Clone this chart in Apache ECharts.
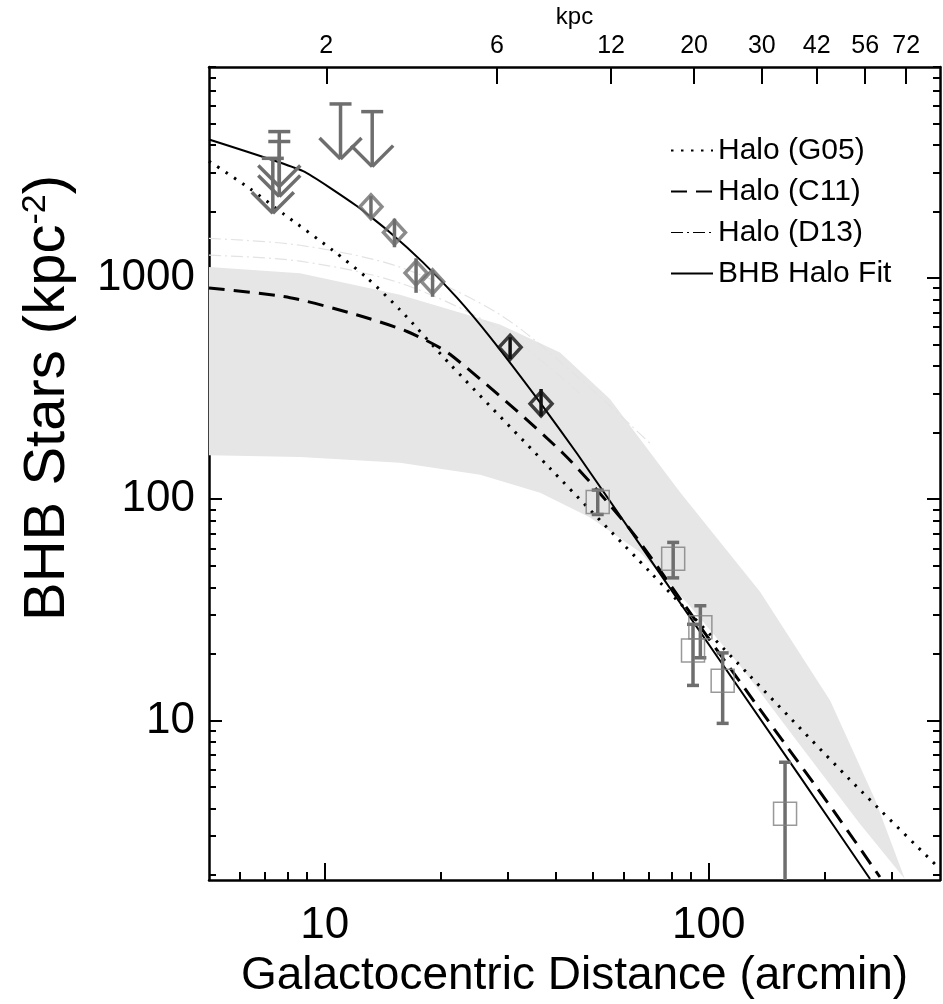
<!DOCTYPE html>
<html lang="en">
<head>
<meta charset="UTF-8">
<title>BHB halo profile</title>
<script src="https://cdn.jsdelivr.net/npm/echarts@6/dist/echarts.min.js"></script>
<style>
  html, body { margin: 0; background: #fff; }
  #main { width: 943px; height: 1004px; }
</style>
</head>
<body>
<div id="main"></div>
<script>
// x: galactocentric distance (arcmin), y: BHB stars per kpc^2
var g05X = [5, 6.4, 7.8, 10.5, 12.9, 15.7, 21.2, 38.6, 70.3, 128, 233, 400];
var g05Y = [3375, 2530, 1955, 1334, 1000, 719, 408, 138, 46.9, 15.9, 5.4, 2.13];

var c11X = [5, 8.13, 12.1, 16.4, 21.2, 41.8, 62.4, 85.7, 142, 211, 279];
var c11Y = [902, 815, 682, 573, 452, 161, 73.1, 34.0, 10.1, 3.92, 1.96];

var fitX = [5, 8.79, 12.1, 14.8, 18.0, 22.1, 27.0, 36.6, 45.4, 70.3, 173, 263];
var fitY = [4228, 3042, 2122, 1607, 1180, 815, 539, 270, 161, 53.6, 5.56, 1.92];

// envelope of the D13 model family
var bandUpX = [5, 8.63, 15.7, 28.6, 41.0, 55.3, 84.4, 136, 207, 271, 324];
var bandUpY = [1120, 1052, 839, 616, 461, 284, 107, 38.2, 12.3, 4.39, 1.92];
var bandLoX = [5, 8.63, 15.7, 25.4, 36.4, 49.1, 66.2, 89.5, 121, 173, 248, 324];
var bandLoY = [158, 155, 146, 129, 107, 82.6, 57.7, 32.7, 17.6, 7.73, 3.39, 1.92];
// a few of the fainter D13 curves outside the dense band
var d13aX = [5, 8.63, 15.7, 28.6, 46.2, 70.3];
var d13aY = [1510, 1406, 1120, 683, 350, 179];
var d13bX = [5, 8.63, 15.7, 28.6, 46.2];
var d13bY = [1268, 1191, 950, 585, 300];

// upper limits (arrows)
var limX = [7.62, 7.62, 7.33, 11.0, 13.3];
var limY = [4590, 4140, 3475, 6120, 5650];

// gray diamonds
var dmX = [13.2, 15.2, 17.3, 19.1];
var dmY = [2100, 1607, 1053, 962];
var dmLo = [1854, 1377, 857, 822];
var dmHi = [2350, 1854, 1228, 1086];

// black diamonds
var bdX = [30.4, 36.6];
var bdY = [486, 270];
var bdLo = [430, 237];
var bdHi = [540, 315];

// open squares
var sqX = [51.4, 80.8, 95.1, 91.0, 108.7, 158];
var sqY = [97.1, 53.8, 26.4, 20.7, 15.1, 3.79];
var sqLo = [85.3, 44.1, 19.2, 14.4, 9.7, 1.0];
var sqHi = [110, 63.8, 33.0, 27.2, 20.2, 6.47];

// axes
var xMajor = [10, 100];
var xMinor = [6, 7, 8, 9, 20, 30, 40, 50, 60, 70, 80, 90, 200, 300];
var yMajor = [10, 100, 1000];
var yMinor = [2, 3, 4, 5, 6, 7, 8, 9, 20, 30, 40, 50, 60, 70, 80, 90,
  200, 300, 400, 500, 600, 700, 800, 900, 2000, 3000, 4000, 5000, 6000, 7000, 8000, 9000];
var kpcLabels = ['2', '6', '12', '20', '30', '42', '56', '72'];
var kpcArcmin = [10.1, 28.1, 55.7, 91.6, 137.5, 191, 255.5, 326.6];

var FONT = 'Liberation Sans, Arial, sans-serif';
var GRAY = '#6e6e6e';

function zip(xs, ys) {
  return xs.map(function (x, i) { return [x, ys[i]]; });
}
function zip3(xs, a, b) {
  return xs.map(function (x, i) { return [x, a[i], b[i]]; });
}

function renderBand(params, api) {
  var pts = [];
  for (var i = 0; i < bandUpX.length; i++) pts.push(api.coord([bandUpX[i], bandUpY[i]]));
  for (var j = bandLoX.length - 1; j >= 0; j--) pts.push(api.coord([bandLoX[j], bandLoY[j]]));
  return {
    type: 'polygon',
    shape: { points: pts },
    style: { fill: '#e6e6e6' }
  };
}

function errBar(cap, color) {
  return function (params, api) {
    var x = api.value(0);
    var lo = api.coord([x, api.value(1)]);
    var hi = api.coord([x, api.value(2)]);
    var st = { stroke: color, lineWidth: 3.5, fill: null };
    var kids = [{ type: 'line', shape: { x1: lo[0], y1: lo[1], x2: hi[0], y2: hi[1] }, style: st }];
    if (cap) {
      kids.push({ type: 'line', shape: { x1: lo[0] - cap, y1: lo[1], x2: lo[0] + cap, y2: lo[1] }, style: st });
      kids.push({ type: 'line', shape: { x1: hi[0] - cap, y1: hi[1], x2: hi[0] + cap, y2: hi[1] }, style: st });
    }
    return { type: 'group', children: kids };
  };
}

function renderLimit(params, api) {
  var p = api.coord([api.value(0), api.value(1)]);
  var len = 55, arm = 21, cap = 11;
  var st = { stroke: GRAY, lineWidth: 3.5, fill: null };
  var tipY = p[1] + len;
  return {
    type: 'group',
    children: [
      { type: 'line', shape: { x1: p[0] - cap, y1: p[1], x2: p[0] + cap, y2: p[1] }, style: st },
      { type: 'line', shape: { x1: p[0], y1: p[1], x2: p[0], y2: tipY }, style: st },
      { type: 'line', shape: { x1: p[0] - arm, y1: tipY - arm, x2: p[0], y2: tipY }, style: st },
      { type: 'line', shape: { x1: p[0] + arm, y1: tipY - arm, x2: p[0], y2: tipY }, style: st }
    ]
  };
}

function logAxis(extra, min, max) {
  var a = {
    type: 'log', logBase: 10, min: min, max: max,
    splitLine: { show: false },
    axisLine: { show: false },
    axisTick: { show: false },
    axisLabel: { show: false }
  };
  return Object.assign(a, extra);
}

var axisLine = { show: true, lineStyle: { color: '#000', width: 2.5 } };
var tickStyle = { color: '#000', width: 2 };
var plain = function (v) { return String(Math.round(v)); };

var chart = echarts.init(document.getElementById('main'));
chart.setOption({
  animation: false,
  backgroundColor: '#fff',
  grid: { left: 209, right: 3, top: 60, bottom: 124, containLabel: false },
  xAxis: [
    logAxis({
      position: 'bottom',
      axisLine: axisLine,
      axisTick: { show: true, inside: true, length: 17, customValues: xMajor, lineStyle: tickStyle },
      axisLabel: { show: true, customValues: xMajor, formatter: plain, fontSize: 44, color: '#000', fontFamily: FONT, margin: 24 },
      name: 'Galactocentric Distance (arcmin)',
      nameLocation: 'middle',
      nameGap: 68,
      nameTextStyle: { fontSize: 46, color: '#000', fontFamily: FONT }
    }, 5, 400),
    logAxis({
      position: 'bottom',
      axisTick: { show: true, inside: true, length: 8, customValues: xMinor, lineStyle: tickStyle }
    }, 5, 400),
    logAxis({
      position: 'top',
      axisLine: axisLine,
      axisTick: { show: true, inside: true, length: 17, customValues: kpcArcmin, lineStyle: tickStyle },
      axisLabel: {
        show: true, customValues: kpcArcmin, fontSize: 25, color: '#000', fontFamily: FONT, margin: 8,
        formatter: function (v) {
          var best = 0;
          for (var i = 1; i < kpcArcmin.length; i++) {
            if (Math.abs(kpcArcmin[i] - v) < Math.abs(kpcArcmin[best] - v)) best = i;
          }
          return kpcLabels[best];
        }
      },
      name: 'kpc',
      nameLocation: 'middle',
      nameGap: 30,
      nameTextStyle: { fontSize: 24, color: '#000', fontFamily: FONT }
    }, 5, 400)
  ],
  yAxis: [
    logAxis({
      position: 'left',
      axisLine: axisLine,
      axisTick: { show: true, inside: true, length: 13, customValues: yMajor, lineStyle: tickStyle },
      axisLabel: { show: true, customValues: yMajor, formatter: plain, fontSize: 44, color: '#000', fontFamily: FONT, margin: 14 }
    }, 1.9, 9000),
    logAxis({
      position: 'left',
      axisTick: { show: true, inside: true, length: 7, customValues: yMinor, lineStyle: tickStyle }
    }, 1.9, 9000),
    logAxis({
      position: 'right',
      axisLine: axisLine,
      axisTick: { show: true, inside: true, length: 13, customValues: yMajor, lineStyle: tickStyle }
    }, 1.9, 9000),
    logAxis({
      position: 'right',
      axisTick: { show: true, inside: true, length: 7, customValues: yMinor, lineStyle: tickStyle }
    }, 1.9, 9000)
  ],
  legend: {
    orient: 'vertical',
    left: 665,
    top: 130,
    itemWidth: 42,
    itemHeight: 14,
    itemGap: 10,
    selectedMode: false,
    itemStyle: { opacity: 0 },
    textStyle: { fontSize: 30, color: '#000', fontFamily: FONT, lineHeight: 31 },
    data: [
      { name: 'Halo (G05)' },
      { name: 'Halo (C11)' },
      { name: 'Halo (D13)', lineStyle: { color: '#000', width: 1.2 } },
      { name: 'BHB Halo Fit' }
    ]
  },
  graphic: [{
    type: 'text',
    x: 48, y: 398,
    rotation: Math.PI / 2,
    style: {
      text: 'BHB Stars (kpc{sup|-2})',
      fill: '#000',
      font: '58px ' + FONT,
      align: 'center',
      verticalAlign: 'middle',
      rich: { sup: { fontSize: 34, verticalAlign: 'top', padding: [0, 0, 24, 0], fontFamily: FONT } }
    }
  }],
  series: [
    { type: 'custom', name: 'band', silent: true, renderItem: renderBand, data: [[10, 100]], z: 1 },
    {
      type: 'line', name: 'Halo (D13)', data: zip(d13aX, d13aY), symbol: 'none', smooth: 0.3, z: 2,
      itemStyle: { color: '#000' },
      lineStyle: { color: '#e3e3e3', width: 1.2, type: [12, 4, 2, 4] }
    },
    {
      type: 'line', name: 'Halo (D13)', data: zip(d13bX, d13bY), symbol: 'none', smooth: 0.3, z: 2,
      itemStyle: { color: '#000' },
      lineStyle: { color: '#e3e3e3', width: 1.2, type: [12, 4, 2, 4] }
    },
    {
      type: 'line', name: 'Halo (G05)', data: zip(g05X, g05Y), symbol: 'none', smooth: 0.25, z: 3,
      itemStyle: { color: '#000' },
      lineStyle: { color: '#000', width: 3, type: [2.5, 7.5] }
    },
    {
      type: 'line', name: 'Halo (C11)', data: zip(c11X, c11Y), symbol: 'none', smooth: 0.25, z: 3,
      itemStyle: { color: '#000' },
      lineStyle: { color: '#000', width: 3, type: [16, 9] }
    },
    {
      type: 'line', name: 'BHB Halo Fit', data: zip(fitX, fitY), symbol: 'none', smooth: 0.15, z: 3,
      itemStyle: { color: '#000' },
      lineStyle: { color: '#000', width: 2 }
    },
    { type: 'custom', name: 'limits', renderItem: renderLimit, data: zip(limX, limY), z: 4 },
    { type: 'custom', name: 'dmErr', renderItem: errBar(0, GRAY), data: zip3(dmX, dmLo, dmHi), z: 4 },
    { type: 'custom', name: 'bdErr', renderItem: errBar(0, '#111'), data: zip3(bdX, bdLo, bdHi), z: 4 },
    { type: 'custom', name: 'sqErr', renderItem: errBar(6, GRAY), data: zip3(sqX, sqLo, sqHi), clip: true, z: 4 },
    {
      type: 'scatter', name: 'dm', data: zip(dmX, dmY), symbol: 'diamond', symbolSize: [22, 24], z: 5,
      itemStyle: { color: 'rgba(0,0,0,0)', borderColor: GRAY, borderWidth: 3.5 }
    },
    {
      type: 'scatter', name: 'bd', data: zip(bdX, bdY), symbol: 'diamond', symbolSize: [22, 24], z: 5,
      itemStyle: { color: 'rgba(0,0,0,0)', borderColor: '#111', borderWidth: 3.5 }
    },
    {
      type: 'scatter', name: 'sq', data: zip(sqX, sqY), symbol: 'rect', symbolSize: 23, z: 5,
      itemStyle: { color: 'rgba(0,0,0,0)', borderColor: '#808080', borderWidth: 1.5 }
    }
  ]
});
</script>
</body>
</html>
